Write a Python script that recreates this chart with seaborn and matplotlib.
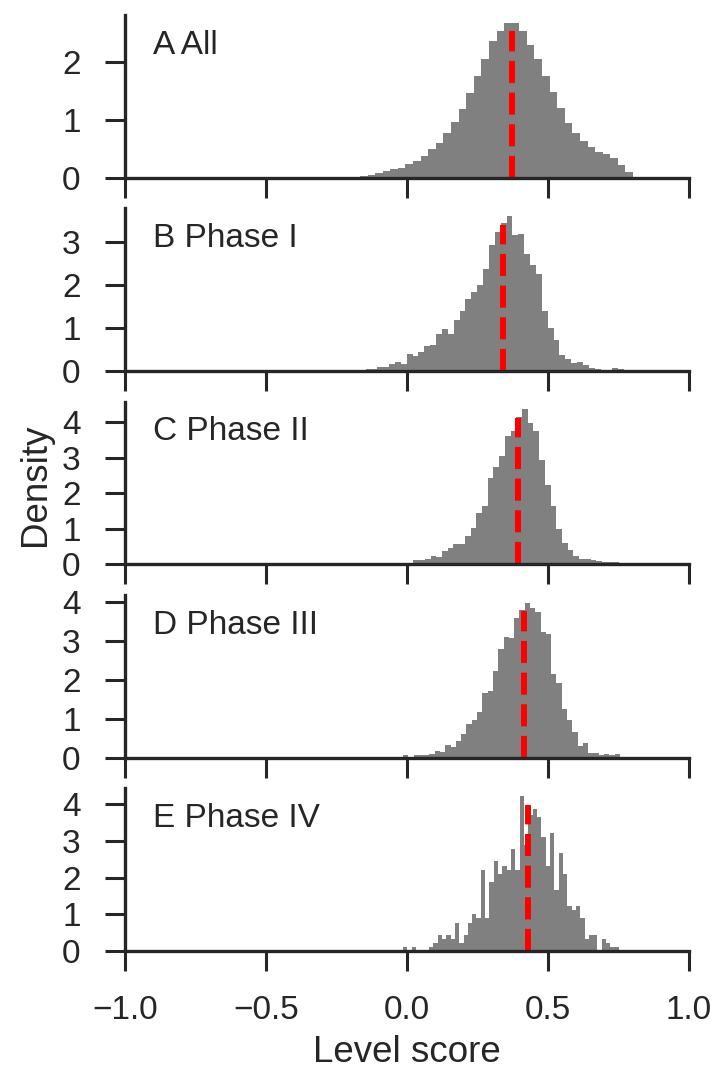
import numpy as np
import pandas as pd
import seaborn as sns
import matplotlib.pyplot as plt
from matplotlib.ticker import MultipleLocator

sns.set_theme(style="ticks")
plt.rcParams['font.family'] = ['Liberation Sans', 'DejaVu Sans']

panel_labels = ["A All", "B Phase I", "C Phase II", "D Phase III", "E Phase IV"]

# histogram bin ranges (first left edge, last right edge)
bin_lo = [-0.1667, -0.147, -0.0177, -0.0142, -0.0142]
bin_hi = [0.8014, 0.7695, 0.752, 0.755, 0.752]

dens_all = [0.02, 0.05, 0.07, 0.11, 0.14, 0.17, 0.23, 0.28, 0.37, 0.49,
            0.59, 0.77, 0.96, 1.18, 1.46, 1.76, 2.05, 2.37, 2.54, 2.68,
            2.68, 2.54, 2.30, 2.05, 1.76, 1.48, 1.20, 0.94, 0.77, 0.63,
            0.52, 0.45, 0.40, 0.33, 0.21, 0.09]
dens_p1 = [0.04, 0.04, 0.09, 0.09, 0.16, 0.20, 0.16, 0.39, 0.35, 0.44,
           0.58, 0.60, 0.86, 0.96, 0.86, 1.19, 1.40, 1.66, 1.83, 1.99,
           2.37, 2.91, 3.22, 3.43, 3.59, 3.15, 3.17, 2.72, 2.46, 2.25,
           1.40, 1.00, 0.72, 0.37, 0.28, 0.18, 0.20, 0.13, 0.06, 0.04,
           0.03, 0.03, 0.06, 0.04]
dens_p2 = [0.04, 0.04, 0.12, 0.12, 0.15, 0.24, 0.21, 0.38, 0.46, 0.58,
           0.58, 0.80, 1.03, 1.43, 1.63, 2.42, 2.73, 3.04, 3.61, 3.75,
           4.15, 4.35, 3.98, 3.75, 2.93, 2.22, 1.65, 1.00, 0.61, 0.41,
           0.24, 0.15, 0.15, 0.12, 0.09, 0.07, 0.07, 0.07]
dens_p3 = [0.06, 0.00, 0.06, 0.06, 0.06, 0.09, 0.16, 0.14, 0.32, 0.27,
           0.42, 0.61, 0.87, 0.97, 1.18, 1.67, 1.72, 2.22, 2.79, 3.10,
           3.07, 3.59, 3.80, 3.98, 3.85, 3.75, 3.23, 3.18, 2.16, 1.93,
           1.26, 0.97, 0.66, 0.29, 0.37, 0.11, 0.11, 0.06, 0.09, 0.06,
           0.09]
dens_p4 = [0.11, 0.00, 0.11, 0.00, 0.00, 0.00, 0.11, 0.22, 0.44, 0.33,
           0.44, 0.33, 0.77, 0.22, 0.44, 0.77, 1.01, 0.90, 2.22, 0.90,
           1.89, 2.44, 2.11, 2.33, 2.22, 2.77, 2.22, 4.22, 2.88, 3.70,
           3.86, 3.64, 3.10, 2.33, 3.21, 1.67, 2.66, 2.11, 1.23, 1.12,
           1.23, 0.90, 0.33, 0.44, 0.44, 0.00, 0.33, 0.22, 0.11, 0.11]
densities = [dens_all, dens_p1, dens_p2, dens_p3, dens_p4]

means = [0.372, 0.340, 0.394, 0.415, 0.429]

x_ticks = [-1.0, -0.5, 0.0, 0.5, 1.0]

fig, axes = plt.subplots(5, 1, figsize=(7.17, 10.72), dpi=100, sharex=True)
fig.subplots_adjust(left=0.1743, right=0.961, top=0.986, bottom=0.1129, hspace=0.19)

for ax, lab, lo, hi, dens, mu in zip(axes, panel_labels, bin_lo, bin_hi, densities, means):
    nb = len(dens)
    w = (hi - lo) / nb
    centers = lo + w * (np.arange(nb) + 0.5)
    df = pd.DataFrame({"score": centers, "density": dens})
    sns.histplot(data=df, x="score", weights="density", bins=nb, binrange=(lo, hi),
                 stat="count", color="#808080", alpha=1.0, linewidth=0, ax=ax)
    ax.axvline(mu, ymin=0, ymax=0.9, color="red", ls="--", lw=4.3)
    ax.set_xlim(-1, 1)
    ax.yaxis.set_major_locator(MultipleLocator(1))
    ax.set_ylabel("")
    ax.set_xlabel("")
    ax.text(0.05, 0.91, lab, transform=ax.transAxes, ha="left", va="top",
            fontsize=24, color="#262626")
    for s in ["left", "bottom"]:
        ax.spines[s].set_linewidth(2.4)
        ax.spines[s].set_color("#262626")
    ax.tick_params(axis="both", direction="out", length=14.4, width=2.2,
                   color="#262626", labelsize=24, labelcolor="#262626", pad=17.5)
    ax.tick_params(axis="x", labelbottom=False)
    sns.despine(ax=ax)

axes[-1].set_xticks(x_ticks)
axes[-1].tick_params(axis="x", labelbottom=True)
axes[-1].set_xlabel("Level score", fontsize=26.5, color="#262626", labelpad=6)
fig.text(0.049, 0.548, "Density", rotation=90, ha="center", va="center",
         fontsize=26.5, color="#262626")

fig.savefig("out.png", dpi=100)
